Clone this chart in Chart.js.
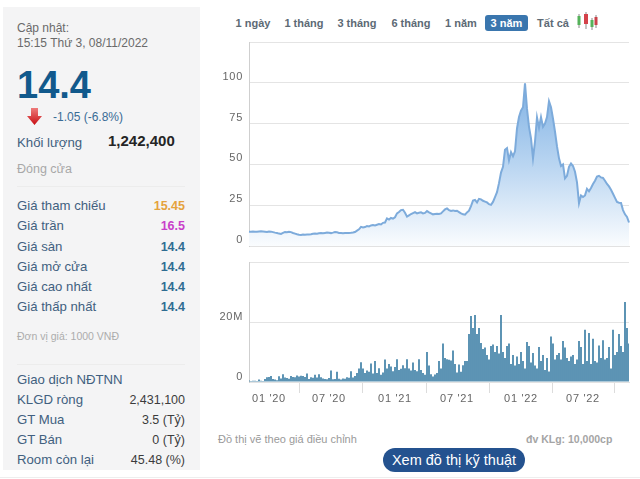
<!DOCTYPE html>
<html>
<head>
<meta charset="utf-8">
<script src="https://cdn.jsdelivr.net/npm/chart.js@4"></script>
<style>
html, body { margin: 0; padding: 0; background: #fff; width: 640px; height: 479px; overflow: hidden; }
body { font-family: "Liberation Sans", Arial, sans-serif; position: relative; }
#side { position: absolute; left: 3px; top: 7px; width: 197px; height: 463px; background: #f4f4f5; }
.t { position: absolute; white-space: nowrap; line-height: 14px; transform: translateY(-7px); }
.lbl { left: 17px; font-size: 13.2px; color: #41607f; }
.val { right: 455px; font-size: 12.5px; font-weight: bold; color: #2f6c92; }
.hr { position: absolute; left: 17px; width: 168px; height: 1px; background: #ececec; }
.tab { position: absolute; top: 15px; height: 16px; line-height: 16px; font-size: 11px; font-weight: bold; color: #5d6a75; text-align: center; }
canvas { position: absolute; }
#btn { position: absolute; left: 383px; top: 448px; width: 142px; height: 24px; line-height: 24px; border-radius: 12px; background: #24528f; color: #fff; font-size: 14.5px; text-align: center; }
#foot { position: absolute; left: 0; top: 477px; width: 640px; height: 1px; background: #eee; }
</style>
</head>
<body>
<div id="side"></div>
<div id="texts"></div>
<svg style="position:absolute;left:26px;top:108px" width="17" height="18">
  <defs><linearGradient id="ar" x1="0" y1="0" x2="0" y2="1"><stop offset="0" stop-color="#ee7b7b"/><stop offset="1" stop-color="#c80f14"/></linearGradient></defs>
  <path d="M5 0H12V8H16L8.5 17L1 8H5Z" fill="url(#ar)"/>
</svg>
<svg style="position:absolute;left:576px;top:11px" width="22" height="19">
  <path d="M3 3V17M10 1V18M16 7V19M20 4V17" stroke="#8a8a8a" stroke-width="1"/>
  <rect x="1.5" y="5" width="3" height="9" fill="#55b25a"/>
  <rect x="8" y="3" width="4" height="10" fill="#d4424a"/>
  <rect x="14.5" y="9" width="3" height="7" fill="#55b25a"/>
  <rect x="18.5" y="6" width="3" height="8" fill="#c9424a"/>
</svg>
<div id="tabs"></div>
<canvas id="price" width="430" height="220" style="left:210px;top:30px;width:430px;height:220px"></canvas>
<canvas id="volume" width="430" height="155" style="left:210px;top:255px;width:430px;height:155px"></canvas>
<div class="t" style="left:218px;top:439px;font-size:11px;color:#9a9a9a">Đồ thị vẽ theo giá điều chỉnh</div>
<div class="t" style="left:526px;top:439px;font-size:10.5px;font-weight:bold;color:#a5a5a5">đv KLg: 10,000cp</div>
<div id="btn">Xem đồ thị kỹ thuật</div>
<div id="foot"></div>
<script>
// gia dong cua, nghin dong (every 2px of the plot)
const priceValues = [
  8.8,8.7,8.9,8.8,8.7,8.9,9.0,8.9,8.8,8.6,
  8.9,8.8,8.5,8.2,8.0,7.6,7.4,8.0,8.6,8.4,
  8.7,8.5,8.0,7.6,7.2,6.9,6.8,7.0,6.9,7.1,
  7.0,7.2,7.5,7.6,7.5,7.8,7.9,7.8,8.0,8.2,
  8.1,7.9,8.2,8.6,8.4,8.0,7.9,7.8,7.9,8.0,
  8.0,8.1,8.3,8.6,9.4,10.2,11.7,11.3,11.6,12.2,
  12.0,12.6,12.8,12.6,13.0,13.4,13.2,14.2,14.4,16.9,
  16.2,17.2,16.8,17.6,20.0,20.8,22.0,22.2,20.4,18.0,
  18.8,19.6,20.2,20.8,20.0,20.4,20.6,20.0,20.3,21.4,
  20.6,20.0,19.4,19.6,19.8,19.6,20.0,21.2,22.4,23.0,
  22.0,21.5,21.8,21.4,21.6,20.8,20.0,19.4,19.2,20.6,
  21.6,24.5,27.8,28.2,26.7,28.9,28.6,27.7,27.2,26.7,
  25.6,25.2,27.0,30.0,33.0,38.5,45.0,48.5,59.0,60.0,
  52.5,57.5,55.0,58.0,72.0,79.0,83.0,85.0,99.6,84.0,
  73.0,66.0,53.7,64.0,78.7,72.5,79.0,73.0,75.0,79.0,
  88.7,85.0,78.0,70.0,61.0,53.7,49.0,50.0,41.5,43.0,
  48.5,50.5,49.0,45.5,39.0,26.2,31.0,30.0,31.0,35.0,
  33.5,35.5,38.0,40.0,42.5,43.0,42.0,41.7,40.0,38.0,
  36.5,34.5,32.0,29.5,27.0,26.5,26.4,22.0,19.4,17.8,
  14.4
];
// khoi luong, trieu cp
const volumeValues = [
  .5,.3,.4,.4,.3,.8,.4,.3,1.0,1.6,
  1.7,2.0,1.0,.8,.6,1.9,1.2,2.6,1.5,1.3,
  1.1,2.0,1.7,1.6,2.2,1.8,2.1,2.0,1.7,2.8,
  1.0,1.6,1.4,2.4,1.5,2.6,1.6,1.2,1.0,.9,
  1.3,3.8,.9,1.0,3.4,1.1,.8,1.2,1.1,1.6,
  1.4,3.6,1.5,2.0,3.0,4.5,6.6,4.5,3.0,3.8,
  3.4,6.2,2.8,7.0,3.0,4.6,2.4,3.2,7.5,4.5,
  6.0,5.2,3.6,5.0,7.6,4.0,4.4,5.6,4.6,7.6,
  4.5,3.8,6.5,4.0,3.6,7.6,4.0,3.0,2.4,10.0,
  5.5,2.6,1.8,2.5,3.0,7.0,4.5,12.8,8.0,7.6,
  7.4,7.2,10.5,6.0,3.2,5.8,3.4,5.6,7.0,7.0,
  16.0,22.0,18.0,22.3,16.0,18.0,13.0,11.0,11.5,9.0,
  7.5,12.0,12.5,10.0,12.0,9.5,22.3,10.0,8.0,12.0,
  12.8,6.0,9.0,5.5,8.5,6.0,10.0,7.0,4.5,13.3,
  12.0,6.5,9.7,5.5,4.5,11.7,7.0,9.0,4.0,8.0,
  3.5,15.2,12.8,7.5,9.0,9.7,7.5,13.7,11.5,8.0,
  7.0,8.5,9.0,6.0,7.5,13.7,11.7,6.0,17.4,7.0,
  16.3,6.0,14.4,7.0,6.5,12.2,8.0,13.9,7.5,8.0,
  11.7,4.5,17.4,9.0,10.0,16.0,12.0,10.0,26.7,18.0,
  12.8
];
const dateTicks = { 10: "01 '20", 40: "07 '20", 73: "01 '21", 104: "07 '21", 136: "01 '22", 167: "07 '22" };
const categories = priceValues.map((v, i) => dateTicks[i] || '');
const priceTicks = [0, 25, 50, 75, 100];
const volumeTicks = { 0: '0', 20: '20M' };

const tabLabels = ['1 ngày', '1 tháng', '3 tháng', '6 tháng', '1 năm', '3 năm', 'Tất cả'];
const tabLefts = [232, 280, 332, 386, 441, 485, 534];
const tabWidths = [42, 48, 50, 50, 40, 43, 38];
const infoRows = [
  ['Giá tham chiếu', '15.45', 206, '#e5a23d'],
  ['Giá trần', '16.5', 226, '#c93fc9'],
  ['Giá sàn', '14.4', 247],
  ['Giá mở cửa', '14.4', 267],
  ['Giá cao nhất', '14.4', 287],
  ['Giá thấp nhất', '14.4', 307]
];
const foreignRows = [
  ['KLGD ròng', '2,431,100', 400],
  ['GT Mua', '3.5 (Tỷ)', 420],
  ['GT Bán', '0 (Tỷ)', 440],
  ['Room còn lại', '45.48 (%)', 460]
];

// sidebar
let html = '';
const txt = (s, style, cls) => { html += '<div class="t ' + (cls || '') + '" style="' + style + '">' + s + '</div>'; };
txt('Cập nhật:', 'left:17px;top:28px;font-size:12px;color:#6a6a6a');
txt('15:15 Thứ 3, 08/11/2022', 'left:17px;top:43px;font-size:12px;color:#6a6a6a');
txt('14.4', 'left:17px;top:85px;font-size:38px;font-weight:bold;color:#11598c');
txt('-1.05 (-6.8%)', 'left:53px;top:117px;font-size:12px;color:#3a6c96');
txt('Khối lượng', 'top:143px', 'lbl');
txt('1,242,400', 'left:108px;top:141px;font-size:15px;font-weight:bold;color:#252525');
txt('Đóng cửa', 'left:17px;top:169px;font-size:12.5px;color:#a8a8a8');
html += '<div class="hr" style="top:186px"></div><div class="hr" style="top:364px"></div>';
infoRows.forEach(r => {
  txt(r[0], 'top:' + r[2] + 'px', 'lbl');
  txt(r[1], 'top:' + r[2] + 'px;' + (r[3] ? 'color:' + r[3] : ''), 'val');
});
txt('Đơn vị giá: 1000 VNĐ', 'left:17px;top:336px;font-size:10.5px;color:#acacac');
txt('Giao dịch NĐTNN', 'top:380px', 'lbl');
foreignRows.forEach(r => {
  txt(r[0], 'top:' + r[2] + 'px', 'lbl');
  txt(r[1], 'top:' + r[2] + 'px;font-weight:normal;color:#3c3c3c;font-size:12.5px', 'val');
});
document.getElementById('texts').innerHTML = html;

let tabHtml = '';
tabLabels.forEach((s, i) => {
  const on = s === '3 năm';
  tabHtml += '<div class="tab" style="left:' + tabLefts[i] + 'px;width:' + tabWidths[i] + 'px;' +
    (on ? 'background:#3a76ae;color:#fff;border-radius:3px' : '') + '">' + s + '</div>';
});
document.getElementById('tabs').innerHTML = tabHtml;

const spaced = { id: 'spaced', beforeDraw(c) { c.ctx.letterSpacing = '0.7px'; } };
const axisFont = { family: '"Liberation Sans"', size: 11 };

new Chart(document.getElementById('price'), {
  type: 'line',
  data: {
    labels: categories,
    datasets: [{
      data: priceValues,
      borderColor: '#7dabdb',
      borderWidth: 2,
      pointRadius: 0,
      tension: 0,
      fill: 'origin',
      backgroundColor(ctx) {
        const a = ctx.chart.chartArea;
        if (!a) return 'transparent';
        const y100 = ctx.chart.scales.y.getPixelForValue(100);
        const g = ctx.chart.ctx.createLinearGradient(0, y100, 0, a.bottom);
        g.addColorStop(0, '#7fb1e4');
        g.addColorStop(0.5, '#b9d5f1');
        g.addColorStop(1, '#fafcfe');
        return g;
      }
    }]
  },
  options: {
    responsive: false,
    animation: false,
    layout: { padding: { left: 0, right: 11, top: 12, bottom: 4 } },
    plugins: { legend: { display: false }, tooltip: { enabled: false } },
    scales: {
      x: {
        display: true,
        ticks: { display: false },
        grid: { display: false },
        border: { display: true, color: '#e2e2e2' },
        afterFit(s) { s.height = 0; s.paddingLeft = s.paddingRight = 0; }
      },
      y: {
        min: 0, max: 125,
        afterFit(s) { s.width = 39; s.paddingTop = s.paddingBottom = 0; },
        afterBuildTicks(s) { s.ticks = priceTicks.concat(125).map(v => ({ value: v })); },
        ticks: {
          callback: v => priceTicks.includes(v) ? String(v) : '',
          color: '#666', font: axisFont, padding: 6, labelOffset: -6
        },
        grid: { color: '#e4e4e4', drawTicks: false },
        border: { color: '#cfcfcf' }
      }
    }
  },
  plugins: [spaced]
});

new Chart(document.getElementById('volume'), {
  type: 'bar',
  data: {
    labels: categories,
    datasets: [{
      data: volumeValues,
      backgroundColor: '#4b88ac',
      barPercentage: 0.9,
      categoryPercentage: 1
    }]
  },
  options: {
    responsive: false,
    animation: false,
    layout: { padding: { left: 0, right: 11, top: 7, bottom: 0 } },
    plugins: { legend: { display: false }, tooltip: { enabled: false } },
    scales: {
      x: {
        offset: false,
        afterBuildTicks(s) { s.ticks = Object.keys(dateTicks).map(k => ({ value: +k })); },
        afterFit(s) { s.height = 28; s.paddingLeft = s.paddingRight = 0; },
        ticks: {
          autoSkip: false, maxRotation: 0,
          callback: v => dateTicks[v],
          color: '#666', font: axisFont, padding: -1
        },
        grid: { drawOnChartArea: false, color: '#dcdcdc', tickLength: 11 },
        border: { color: '#e2e2e2' }
      },
      y: {
        min: 0, max: 40,
        afterFit(s) { s.width = 39; s.paddingTop = s.paddingBottom = 0; },
        afterBuildTicks(s) { s.ticks = [0, 20, 40].map(v => ({ value: v })); },
        ticks: {
          callback: v => volumeTicks[v] || '',
          color: '#666', font: axisFont, padding: 6, labelOffset: -5
        },
        grid: { color: '#e4e4e4', drawTicks: false },
        border: { color: '#cfcfcf' }
      }
    }
  },
  plugins: [spaced]
});
</script>
</body>
</html>
